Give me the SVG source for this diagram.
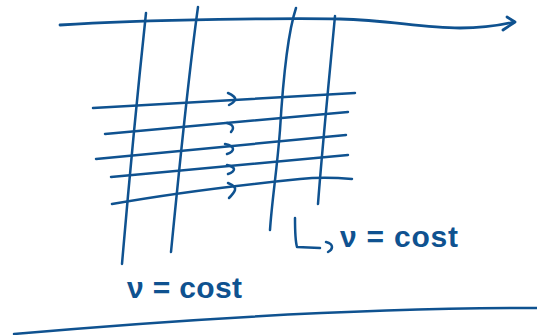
<svg xmlns="http://www.w3.org/2000/svg" width="537" height="335" viewBox="0 0 537 335">
<style>
.s{fill:none;stroke:#0f5290;stroke-width:2.5;stroke-linecap:round;stroke-linejoin:round}
.t{fill:#0f5290;font-family:"Liberation Sans","DejaVu Sans",sans-serif;font-size:30px;font-weight:bold}
</style>
<rect width="537" height="335" fill="#ffffff"/>
<g id="axis">
<path class="s" d="M60,25 C150,19 300,18 340,19 C390,20 420,28 460,28 C490,28 505,24 514,22" style="stroke-width:2.8"/>
<path class="s" d="M507,17 L515,22 L503,30" style="stroke-width:2.8"/>
</g>
<g id="verticals">
<path class="s" d="M146,13 C141,60 130,170 122,264"/>
<path class="s" d="M198,7 C192,50 180,160 171,252"/>
<path class="s" d="M296,8 C287,35 283,80 280,130 C277,170 272,200 270,230"/>
<path class="s" d="M335,16 C330,70 322,150 318,204"/>
</g>
<g id="horizontals">
<path class="s" d="M93,108 L355,93"/>
<path class="s" d="M105,134 L348,112"/>
<path class="s" d="M96,159 L346,135"/>
<path class="s" d="M111,177 L348,155"/>
<path class="s" d="M112,204 C180,192 250,184 300,179 C320,177 340,178 352,179"/>
</g>
<g id="chevrons">
<path class="s" d="M228,93 C233,95 236,98 235,100 C234,102 231,104 229,105"/>
<path class="s" d="M227,123 C231,124 233,126 233,128 C233,130 232,131 231,132"/>
<path class="s" d="M225,144 C230,145 233,147 233,149 C233,151 230,153 227,154"/>
<path class="s" d="M227,165 C231,166 234,168 234,169 C234,171 231,173 228,174"/>
<path class="s" d="M228,183 C233,185 236,187 235,190 C234,193 231,196 229,198"/>
</g>
<g id="label1">
<text class="t" x="127" y="298" textLength="115" lengthAdjust="spacing">ν = cost</text>
</g>
<g id="label2">
<path class="s" d="M295,218 C295,230 295,240 297,247 L320,248"/>
<path class="s" d="M326,242 C330,243 332,245 332,247 C332,249 330,251 328,252"/>
<text class="t" x="340" y="247" textLength="118" lengthAdjust="spacing">ν = cost</text>
</g>
<g id="baseline">
<path class="s" d="M14,334 C150,322 350,308 537,308"/>
</g>
</svg>
